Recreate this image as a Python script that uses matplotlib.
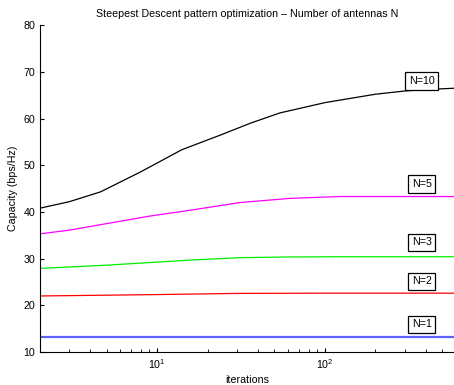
import numpy as np
import matplotlib
matplotlib.use('Agg')
import matplotlib.pyplot as plt

plt.rcParams['font.family'] = ['Liberation Sans', 'DejaVu Sans']

# valores (iteracoes em escala log)
it_n10 = [2, 3, 4.6, 8, 14, 24, 36, 54, 100, 200, 300, 400, 600]
cap_n10 = [40.8, 42.2, 44.3, 48.6, 53.3, 56.5, 59.0, 61.2, 63.4, 65.2, 65.9, 66.2, 66.5]

it_n5 = [2, 3, 5, 9, 16, 31, 62, 123, 600]
cap_n5 = [35.3, 36.1, 37.5, 39.1, 40.4, 42.0, 42.9, 43.3, 43.3]

it_n3 = [2, 5, 16, 31, 60, 123, 600]
cap_n3 = [27.9, 28.6, 29.7, 30.2, 30.35, 30.4, 30.4]

it_n2 = [2, 10, 30, 100, 600]
cap_n2 = [22.0, 22.3, 22.55, 22.6, 22.6]

it_n1 = [2, 600]
cap_n1 = [13.3, 13.3]

rotulos = ['N=10', 'N=5', 'N=3', 'N=2', 'N=1']
rotulo_x = [378, 378, 378, 378, 378]
rotulo_y = [68.0, 46.0, 33.5, 25.1, 15.9]

fig = plt.figure(figsize=(4.54, 3.85), dpi=100)
ax = fig.add_axes([0.088, 0.0857, 0.912, 0.849])

ax.plot(it_n10, cap_n10, color='black', lw=0.9)
ax.plot(it_n5, cap_n5, color='#ff00ff', lw=0.9)
ax.plot(it_n3, cap_n3, color='#00ee00', lw=0.9)
ax.plot(it_n2, cap_n2, color='#ff0000', lw=0.9)
ax.plot(it_n1, cap_n1, color='#6060ff', lw=1.6)

for txt, xx, yy in zip(rotulos, rotulo_x, rotulo_y):
    ax.text(xx, yy, txt, fontsize=7.7, ha='center', va='center',
            bbox=dict(boxstyle='square,pad=0.35', fc='white', ec='black', lw=0.9))

ax.set_xscale('log')
ax.set_xlim(2, 590)
ax.set_ylim(10, 80)
ax.set_yticks(np.arange(10, 81, 10))
ax.tick_params(direction='in', labelsize=7.7, length=3)
ax.tick_params(which='minor', direction='in', length=2)
ax.spines['top'].set_visible(False)
ax.spines['right'].set_visible(False)

ax.set_xlabel('iterations', fontsize=7.7, labelpad=3)
ax.set_ylabel('Capacity (bps/Hz)', fontsize=7.7, labelpad=4)
ax.set_title('Steepest Descent pattern optimization \u2013 Number of antennas N', fontsize=7.7, pad=6)

fig.savefig('out.png', dpi=100)
